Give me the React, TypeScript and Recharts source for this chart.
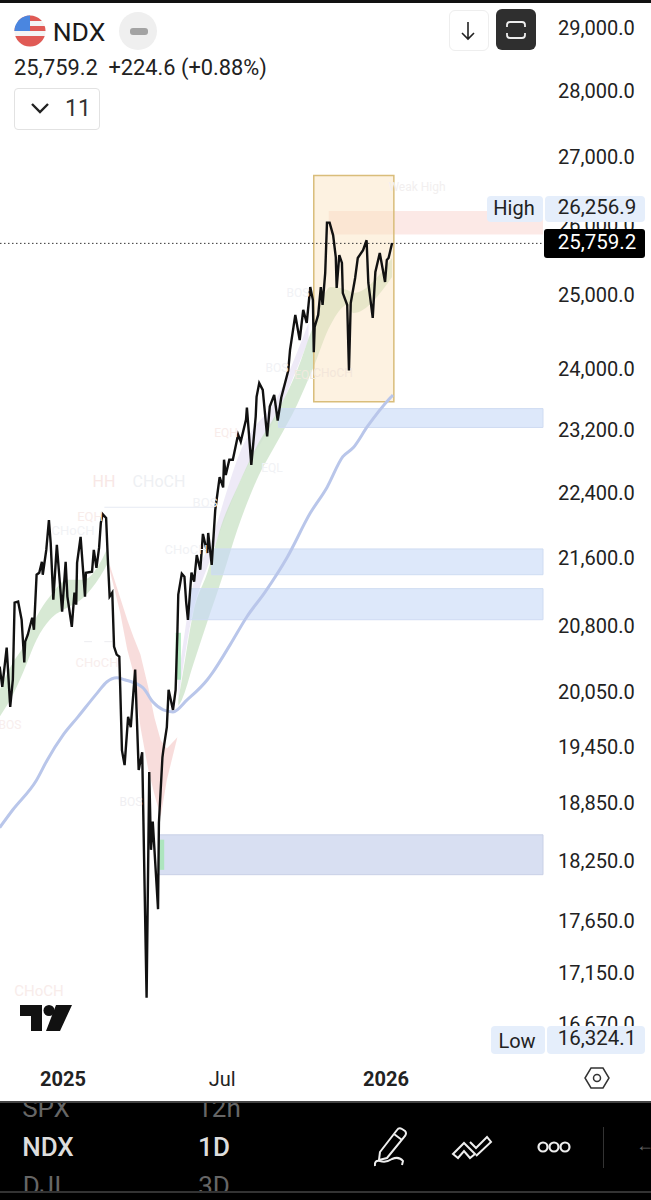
import React from 'react';
import {
  ComposedChart,
  Line,
  Area,
  XAxis,
  YAxis,
  ReferenceArea,
  ReferenceLine,
} from 'recharts';

// days since 2025-01-01
const priceDays = [-72, -69, -64, -60, -57, -55, -51, -47, -44, -43, -40, -35, -33, -30, -27, -24, -23, -19, -16, -14, -11, -7, -1, 3, 5, 10, 13, 15, 16, 20, 25, 26, 33, 35, 38, 41, 43, 45, 49, 51, 53, 56, 58, 61, 64, 65, 67, 70, 74, 77, 82, 86, 90, 94, 95, 98, 100, 102, 108, 109, 113, 114, 118, 120, 125, 128, 130, 131, 135, 138, 140, 142, 146, 149, 152, 156, 159, 164, 165, 169, 173, 178, 182, 183, 185, 189, 193, 199, 202, 208, 209, 214, 219, 220, 223, 227, 232, 235, 240, 244, 248, 256, 258, 264, 269, 273, 277, 281, 284, 285, 286, 290, 293, 295, 298, 300, 303, 307, 310, 311, 314, 317, 318, 323, 325, 327, 332, 335, 341, 345, 347, 352, 355, 360, 366, 368, 370, 374];
const priceValues = [20334, 20107, 20550, 19884, 20186, 21071, 21083, 20870, 20380, 20618, 20698, 20894, 20755, 21400, 21424, 21553, 21400, 21697, 22061, 21782, 21106, 21758, 20965, 21553, 21141, 20789, 21188, 21047, 21541, 21855, 21141, 21424, 21435, 21697, 21482, 21721, 22024, 22133, 22085, 21576, 21141, 21188, 20561, 20470, 20447, 20107, 19408, 19250, 19773, 19661, 20300, 19197, 19387, 17375, 16915, 19176, 18364, 18654, 17768, 18643, 19334, 19408, 19661, 20073, 19850, 20073, 20720, 21165, 21412, 21376, 21071, 20870, 21424, 21318, 21636, 21459, 21891, 21661, 21903, 21518, 22182, 22594, 22465, 22813, 22619, 22813, 22813, 23136, 23045, 23329, 23484, 22748, 23368, 23626, 23806, 23716, 23110, 23497, 23652, 23316, 23613, 23974, 24247, 24726, 24384, 24795, 24616, 25113, 24932, 24219, 24562, 24726, 25113, 24863, 25310, 26028, 26028, 25845, 25535, 25099, 25563, 25451, 25028, 24863, 23974, 24890, 25239, 25521, 25634, 25775, 25169, 24685, 25324, 25592, 25183, 25493, 25521, 25735];

const maDays = [-72, -57, -30, -18, 0, 17, 39, 50, 61, 70, 91, 102, 114, 125, 141, 164, 170, 190, 209, 230, 255, 281, 300, 318, 330, 346, 372, 375];
const maValues = [18592, 18778, 19092, 19303, 19573, 19773, 20039, 20164, 20209, 20186, 20095, 19939, 19850, 19828, 19961, 20186, 20266, 20584, 20906, 21200, 21612, 22146, 22465, 22852, 22968, 23239, 23613, 23650];

const greenLeftDays = [-72, -57, -45, -30, -15, 5, 23, 42, 51];
const greenLeftHigh = [20073, 20380, 20561, 20906, 21141, 21341, 21341, 21541, 21733];
const greenLeftLow = [19773, 20017, 20277, 20641, 20870, 21012, 21129, 21376, 21541];

const redDays = [53, 65, 73, 80, 88, 97, 104, 111, 118, 130];
const redHigh = [21518, 21129, 20870, 20675, 20470, 20095, 19761, 19517, 19429, 19550];
const redLow = [21459, 20953, 20527, 20266, 19661, 19197, 18934, 18705, 19092, 19550];

const greenRightDays = [131, 135, 148, 164, 182, 198, 220, 243, 266, 284, 304, 323, 330, 374];
const greenRightHigh = [19961, 20186, 20953, 21424, 22061, 22465, 22981, 23419, 23974, 24562, 25113, 25070, 25028, 25521];
const greenRightLow = [19895, 19961, 20357, 20847, 21400, 21939, 22555, 23032, 23523, 24000, 24589, 24863, 24753, 25253];

const lavenderDays = [131, 144, 170, 201, 246, 279];
const lavenderHigh = [20186, 21083, 21855, 22903, 23677, 24616];
const lavenderLow = [19961, 20777, 21660, 22529, 23458, 24384];

const priceTicks = [29000, 28000, 27000, 26000, 25000, 24000, 23200, 22400, 21600, 20800, 20050, 19450, 18850, 18250, 17650, 17150, 16670];
const dateTicks = [0, 181, 367];
const dateLabels = ['2025', 'Jul', '2026'];

const lastLineLevel = 25730;

const zip3 = (days: number[], high: number[], low: number[]) =>
  days.map((d, i) => ({ d, range: [low[i], high[i]] }));

const priceRows = priceDays.map((d, i) => ({ d, price: priceValues[i] }));
const maRows = maDays.map((d, i) => ({ d, ma: maValues[i] }));
const greenLeftRows = zip3(greenLeftDays, greenLeftHigh, greenLeftLow);
const redRows = zip3(redDays, redHigh, redLow);
const greenRightRows = zip3(greenRightDays, greenRightHigh, greenRightLow);
const lavenderRows = zip3(lavenderDays, lavenderHigh, lavenderLow);

const FONT = 'Roboto, sans-serif';
const X_MIN = -71.6;
const X_MAX = 545.5;

const DateTick = (props: any) => {
  const { x, y, payload } = props;
  const idx = dateTicks.indexOf(payload.value);
  return (
    <text
      x={x}
      y={y}
      textAnchor="middle"
      dominantBaseline="central"
      fontFamily={FONT}
      fontSize={20}
      fontWeight={idx === 1 ? 400 : 700}
      fill="#222"
    >
      {dateLabels[idx]}
    </text>
  );
};

const fmtPrice = (v: number) => v.toLocaleString('en-US', { minimumFractionDigits: 1 });

const Txt = ({ x, y, size = 14, color = '#f3eeee', weight = 400, children }: any) => (
  <div
    style={{
      position: 'absolute',
      left: x,
      top: y,
      transform: 'translate(-50%, -50%)',
      fontSize: size,
      color,
      fontWeight: weight,
      whiteSpace: 'nowrap',
      fontFamily: FONT,
    }}
  >
    {children}
  </div>
);

const Box = ({ x, y, w, h, bg, radius = 0 }: any) => (
  <div
    style={{
      position: 'absolute',
      left: x,
      top: y,
      width: w,
      height: h,
      background: bg,
      borderRadius: radius,
    }}
  />
);

export default function App() {
  return (
    <div
      style={{
        position: 'absolute',
        left: 0,
        top: 0,
        width: 651,
        height: 1200,
        background: '#fff',
        overflow: 'hidden',
        fontFamily: FONT,
      }}
    >
      <ComposedChart
        width={651}
        height={1102}
        data={priceRows}
        margin={{ top: 0, right: 0, bottom: 0, left: 0 }}
      >
        <XAxis
          dataKey="d"
          type="number"
          domain={[X_MIN, X_MAX]}
          allowDataOverflow
          ticks={dateTicks}
          axisLine={false}
          tickLine={false}
          height={48}
          tickMargin={19}
          tick={<DateTick />}
          interval={0}
        />
        <YAxis
          orientation="right"
          type="number"
          scale="log"
          domain={[16393, 29459]}
          allowDataOverflow
          ticks={priceTicks}
          interval={0}
          width={108}
          axisLine={false}
          tickLine={false}
          tickMargin={9}
          tickFormatter={fmtPrice}
          tick={{ fontSize: 20, fill: '#222', fontFamily: FONT }}
        />

        {/* faint structure lines */}
        <ReferenceLine segment={[{ x: 47, y: 22218 }, { x: 173, y: 22218 }]} stroke="#e6eaf3" />
        <ReferenceLine segment={[{ x: -72, y: 17228 }, { x: 93, y: 17228 }]} stroke="#f4e6e6" />
        <ReferenceLine segment={[{ x: -72, y: 20732 }, { x: -58, y: 20732 }]} stroke="#eceef3" />
        <ReferenceLine segment={[{ x: 24, y: 20618 }, { x: 33, y: 20618 }]} stroke="#ececf0" />
        <ReferenceLine segment={[{ x: 47, y: 20618 }, { x: 56, y: 20618 }]} stroke="#ececf0" />

        <Area data={lavenderRows} dataKey="range" type="monotone" fill="#e7e1f3" fillOpacity={0.7} stroke="none" dot={false} isAnimationActive={false} />
        <Area data={greenLeftRows} dataKey="range" type="monotone" fill="#c9e2c6" fillOpacity={0.75} stroke="none" dot={false} isAnimationActive={false} />
        <Area data={redRows} dataKey="range" type="linear" fill="#f3c4c2" fillOpacity={0.58} stroke="none" dot={false} isAnimationActive={false} />
        <Area data={greenRightRows} dataKey="range" type="monotone" fill="#c9e2c6" fillOpacity={0.75} stroke="none" dot={false} isAnimationActive={false} />

        {/* zones */}
        <ReferenceArea x1={245} x2={X_MAX} y1={23226} y2={23471} fill="#c6d8f6" fillOpacity={0.6} stroke="#cfdcf2" />
        <ReferenceArea x1={169} x2={X_MAX} y1={21400} y2={21709} fill="#c6d8f6" fillOpacity={0.6} stroke="#cfdcf2" />
        <ReferenceArea x1={144} x2={X_MAX} y1={20871} y2={21235} fill="#c6d8f6" fillOpacity={0.6} stroke="#cfdcf2" />
        <ReferenceArea x1={109} x2={X_MAX} y1={18112} y2={18518} fill="#c8d1ec" fillOpacity={0.7} stroke="#c9d0e6" />
        <ReferenceArea x1={302} x2={X_MAX} y1={25858} y2={26197} fill="#fbe4e0" fillOpacity={0.8} stroke="none" />

        <ReferenceArea x1={128} x2={134} y1={20186} y2={20720} fill="#a8e6b8" fillOpacity={0.9} stroke="none" />
        <ReferenceArea x1={109} x2={115} y1={18161} y2={18468} fill="#a8e6b8" fillOpacity={0.9} stroke="none" />

        <Line data={maRows} dataKey="ma" type="monotone" stroke="#b9c6ea" strokeWidth={3} dot={false} isAnimationActive={false} />

        {/* highlighted box */}
        <ReferenceArea x1={285} x2={376} y1={23561} y2={26721} fill="#fbe3bd" fillOpacity={0.45} stroke="#d9bd7a" strokeWidth={1.5} />

        <ReferenceLine stroke="#333" strokeDasharray="1.5 2.5" segment={[{ x: X_MIN, y: lastLineLevel }, { x: X_MAX, y: lastLineLevel }]} />

        <Line dataKey="price" type="linear" stroke="#111" strokeWidth={2.4} dot={false} isAnimationActive={false} />
      </ComposedChart>

      {/* faint indicator labels */}
      <Txt x={104} y={481} size={16} color="#f8e7e5">HH</Txt>
      <Txt x={159} y={481} size={16} color="#eef0f3">CHoCH</Txt>
      <Txt x={417} y={187} size={12} color="#f2efef">Weak High</Txt>
      <Txt x={90} y={516} size={13} color="#f8ecea">EQH</Txt>
      <Txt x={73} y={530} size={13} color="#f1f2f5">CHoCH</Txt>
      <Txt x={205} y={502} size={13} color="#f1f2f5">BOS</Txt>
      <Txt x={186} y={549} size={13} color="#f1f2f5">CHoCH</Txt>
      <Txt x={97} y={662} size={13} color="#f8eeed">CHoCH</Txt>
      <Txt x={10} y={725} size={12} color="#f8eeed">BOS</Txt>
      <Txt x={131} y={802} size={12} color="#f0eff2">BOS</Txt>
      <Txt x={226} y={433} size={12} color="#f8ecea">EQH</Txt>
      <Txt x={272} y={468} size={12} color="#f1f2f5">EQL</Txt>
      <Txt x={298} y={293} size={12} color="#f1f2f5">BOS</Txt>
      <Txt x={277} y={368} size={12} color="#f1f2f5">BOS</Txt>
      <Txt x={305} y={375} size={12} color="#efe9df">EQL</Txt>
      <Txt x={333} y={373} size={12} color="#f3e6da">CHoCH</Txt>
      <Txt x={39} y={991} size={15} color="#f8ecea">CHoCH</Txt>

      {/* price labels */}
      <Box x={487} y={196} w={56} h={26} bg="#e5eefb" radius={4} />
      <Box x={545} y={196} w={100} h={26} bg="#e5eefb" radius={4} />
      <Txt x={514} y={208} size={20} color="#222">High</Txt>
      <Txt x={597} y={207} size={20.5} color="#222">26,256.9</Txt>
      <Box x={544} y={229} w={101} h={29} bg="#000" radius={3} />
      <Txt x={597} y={242} size={20.5} color="#fff">25,759.2</Txt>
      <Box x={491} y={1026} w={54} h={28} bg="#e5eefb" radius={4} />
      <Box x={547} y={1026} w={98} h={28} bg="#e5eefb" radius={4} />
      <Txt x={517} y={1041} size={20} color="#222">Low</Txt>
      <Txt x={597} y={1038} size={20.5} color="#222">16,324.1</Txt>

      {/* header */}
      <Box x={0} y={0} w={651} h={3} bg="#111" />
      <svg style={{ position: 'absolute', left: 14, top: 15 }} width={32} height={32} viewBox="0 0 32 32">
        <defs>
          <clipPath id="flag">
            <circle cx={16} cy={16} r={15.5} />
          </clipPath>
        </defs>
        <g clipPath="url(#flag)">
          <rect width={32} height={32} fill="#f4f4f4" />
          <rect y={0} width={32} height={6} fill="#e05a55" />
          <rect y={11} width={32} height={5} fill="#e05a55" />
          <rect y={21} width={32} height={11} fill="#e05a55" />
          <rect width={16} height={16} fill="#4a86e0" />
        </g>
      </svg>
      <Txt x={79} y={31} size={26.5} color="#1a1a1a">NDX</Txt>
      <Box x={119} y={12} w={38} h={38} bg="#efefef" radius={19} />
      <Box x={130} y={28} w={18} h={7} bg="#a3a3a3" radius={3} />
      <Txt x={140.5} y={67} size={21.8} color="#222">25,759.2&nbsp; +224.6 (+0.88%)</Txt>
      <div style={{ position: 'absolute', left: 14, top: 88, width: 84, height: 40, border: '1px solid #e2e2e2', borderRadius: 4 }} />
      <svg style={{ position: 'absolute', left: 30, top: 102 }} width={20} height={12} viewBox="0 0 20 12">
        <path d="M2 2 L10 10 L18 2" fill="none" stroke="#222" strokeWidth={2.4} />
      </svg>
      <Txt x={78} y={108} size={23} color="#333">11</Txt>
      <div style={{ position: 'absolute', left: 449, top: 10, width: 38, height: 39, border: '1px solid #eee', borderRadius: 6 }} />
      <svg style={{ position: 'absolute', left: 459, top: 21 }} width={18} height={20} viewBox="0 0 18 20">
        <path d="M9 1 V18 M3 12 L9 18 L15 12" fill="none" stroke="#222" strokeWidth={1.6} />
      </svg>
      <Box x={496} y={9} w={40} h={41} bg="#2f2f2f" radius={6} />
      <svg style={{ position: 'absolute', left: 505, top: 19 }} width={22} height={22} viewBox="0 0 22 22">
        <path
          d="M2 8 V6 Q2 3 5 3 H17 Q20 3 20 6 V8 M2 14 V16 Q2 19 5 19 H17 Q20 19 20 16 V14"
          fill="none"
          stroke="#eee"
          strokeWidth={1.8}
        />
      </svg>

      {/* watermark */}
      <svg style={{ position: 'absolute', left: 20, top: 1005 }} width={52} height={26} viewBox="0 0 52 26">
        <path d="M0 0 H22 V26 H11 V11 H0 Z M36 0 H52 L40 26 H26 Z" fill="#111" />
        <circle cx={29} cy={5.5} r={5.5} fill="#111" />
      </svg>

      {/* settings */}
      <svg style={{ position: 'absolute', left: 584, top: 1066 }} width={26} height={24} viewBox="0 0 26 24">
        <path d="M7 2 H19 L25 12 L19 22 H7 L1 12 Z" fill="none" stroke="#333" strokeWidth={1.5} />
        <circle cx={13} cy={12} r={3.5} fill="none" stroke="#333" strokeWidth={1.5} />
      </svg>

      {/* bottom toolbar */}
      <Box x={0} y={1101} w={651} h={99} bg="#000" />
      <Box x={0} y={1101} w={651} h={2} bg="#444" />
      <div style={{ position: 'absolute', left: 0, top: 1103, width: 651, height: 88, overflow: 'hidden' }}>
        <Txt x={46} y={5} size={26} color="#666">SPX</Txt>
        <Txt x={219} y={5} size={26} color="#666">12h</Txt>
        <Txt x={48} y={44} size={26} color="#ddd" weight={500}>NDX</Txt>
        <Txt x={214} y={44} size={26} color="#ddd" weight={500}>1D</Txt>
        <Txt x={42} y={83} size={26} color="#666">DJI</Txt>
        <Txt x={214} y={83} size={26} color="#666">3D</Txt>
      </div>
      <Box x={0} y={1191} w={651} h={2} bg="#333" />
      <svg style={{ position: 'absolute', left: 372, top: 1126 }} width={40} height={42} viewBox="0 0 40 42">
        <path d="M8 26 L25 4 Q27 1 30 3 L33 5 Q35 7 33 10 L15 32 L7 34 Z M22 8 L30 14" fill="none" stroke="#eee" strokeWidth={2} />
        <path d="M3 40 Q2 34 8 35 Q14 37 20 33 Q27 30 31 35 L30 39" fill="none" stroke="#eee" strokeWidth={2} />
      </svg>
      <svg style={{ position: 'absolute', left: 450, top: 1134 }} width={44} height={26} viewBox="0 0 44 26">
        <path d="M3 20 L14 9 L25 20 L20 24 L14 17 L8 24 Z M20 8 L26 14 L37 3 L41 8 L26 22" fill="none" stroke="#eee" strokeWidth={2} />
      </svg>
      <svg style={{ position: 'absolute', left: 537, top: 1140 }} width={34} height={14} viewBox="0 0 34 14">
        <circle cx={6} cy={7} r={4.5} fill="none" stroke="#eee" strokeWidth={2.2} />
        <circle cx={17} cy={7} r={4.5} fill="none" stroke="#eee" strokeWidth={2.2} />
        <circle cx={28} cy={7} r={4.5} fill="none" stroke="#eee" strokeWidth={2.2} />
      </svg>
      <Box x={603} y={1127} w={1} h={41} bg="#333" />
      <Txt x={645} y={1145} size={18} color="#666">←</Txt>
    </div>
  );
}
